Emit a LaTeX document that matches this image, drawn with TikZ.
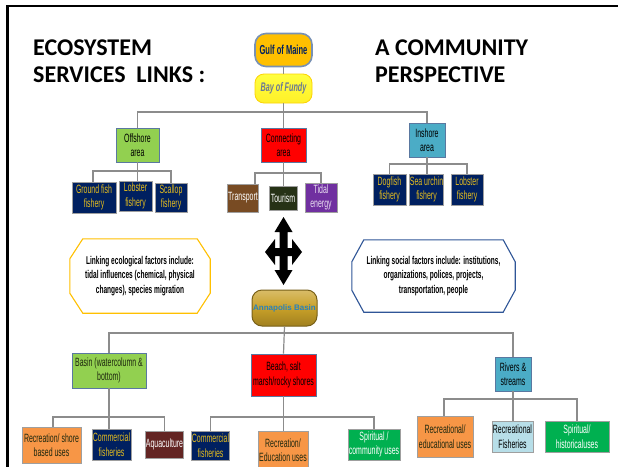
\documentclass[tikz,border=0pt]{standalone}
\usepackage{fontspec}
\setmainfont{Liberation Sans}
\newfontfamily\nf[FakeStretch=0.58]{Liberation Sans}
\newfontfamily\tf{Carlito}
\definecolor{lineg}{RGB}{140,140,140}
\definecolor{cnavy}{RGB}{0,32,96}
\definecolor{goldt}{RGB}{228,188,30}
\definecolor{lgreen}{RGB}{146,208,80}
\definecolor{cteal}{RGB}{75,172,198}
\definecolor{cbrown}{RGB}{120,75,35}
\definecolor{ctour}{RGB}{38,50,22}
\definecolor{cpurp}{RGB}{112,48,160}
\definecolor{corange}{RGB}{247,150,70}
\definecolor{cmaroon}{RGB}{99,37,35}
\definecolor{cgreen}{RGB}{0,176,80}
\definecolor{clblue}{RGB}{183,222,232}
\definecolor{cgold}{RGB}{255,192,0}
\definecolor{cyel}{RGB}{255,240,40}
\definecolor{cann}{RGB}{200,160,40}
\definecolor{cblueb}{RGB}{47,85,151}
\definecolor{bordb}{RGB}{120,145,180}
\definecolor{darkt}{RGB}{30,40,15}
\definecolor{cbayt}{RGB}{105,120,150}
\definecolor{cannt}{RGB}{40,130,190}
\definecolor{boxb}{RGB}{90,120,160}
\tikzset{
  box/.style={draw=gray!75, line width=0.8pt, inner sep=0.5pt, align=center,
    font=\nf\fontsize{12}{14.5}\selectfont},
  sz/.style 2 args={minimum width=#1pt, minimum height=#2pt},
  wire/.style={draw=lineg, line width=1.2pt},
  navyb/.style={box, fill=cnavy, text=goldt},
  ttl/.style={anchor=base west, inner sep=0pt, font=\tf\bfseries\fontsize{24}{27}\selectfont},
  octtext/.style={align=center, inner sep=0pt, font=\nf\bfseries\fontsize{11.3}{14.5}\selectfont}
}
\begin{document}
\begin{tikzpicture}[x=1pt,y=-1pt]
\useasboundingbox (0,0) rectangle (618,466);
\fill[white] (0,0) rectangle (618,466);
\draw[line width=2.6pt] (7.5,6) rectangle (660,520);

% titles
\node[ttl] (t1) at (33,55) {ECOSYSTEM};
\node[ttl] (t2) at (33,82) {SERVICES\ \ LINKS :};
\node[ttl] (t3) at (375,55) {A COMMUNITY};
\node[ttl] (t4) at (375,82) {PERSPECTIVE};

% top
\node[box, sz={57}{33}, rounded corners=11pt, fill=cgold, draw=bordb, line width=1.6pt,
  font=\nf\bfseries\fontsize{13}{14}\selectfont, text=cnavy] (gulf) at (283.5,50) {Gulf of Maine};
\node[box, sz={57}{29}, rounded corners=9pt, top color=yellow!75!white, bottom color=cyel,
  draw=yellow!70!orange, font=\nf\bfseries\itshape\fontsize{12.5}{14}\selectfont, text=cbayt] (bay) at (283.5,88.5) {Bay of Fundy};

% level 1
\node[box, sz={43}{34}, fill=lgreen, draw=boxb] (off) at (137.5,145) {Offshore\\area};
\node[box, sz={45}{34}, fill=red, draw=boxb] (conn) at (283.5,145) {Connecting\\area};
\node[box, sz={36}{34}, fill=cteal, draw=boxb] (ins) at (427,140) {Inshore\\area};

% offshore children
\node[navyb, sz={44}{31}] (gf) at (94,197.5) {Ground fish\\fishery};
\node[navyb, sz={33}{30}] (lob1) at (135.5,196) {Lobster\\fishery};
\node[navyb, sz={32}{29}] (sc) at (171,197.5) {Scallop\\fishery};

% connecting children
\node[box, sz={30}{28}, fill=cbrown, text=white] (tr) at (243,198) {Transport};
\node[box, sz={28}{24}, fill=ctour, text=white] (tou) at (283,198) {Tourism};
\node[box, sz={32}{29}, fill=cpurp, text=white!85!cpurp] (tid) at (321,197.5) {Tidal\\energy};

% inshore children
\node[navyb, sz={33}{31}] (dog) at (389.5,189.5) {Dogfish\\fishery};
\node[navyb, sz={33}{31}] (sea) at (426.5,189.5) {Sea urchin\\fishery};
\node[navyb, sz={32}{31}] (lob2) at (467,189.5) {Lobster\\fishery};

% connectors top
\coordinate (bus1) at (283.5,112);
\draw[wire] (gulf.south) -- (bay.north);
\draw[wire] (bay.south) -- (conn.north);
\draw[wire] (off.north) |- (bus1) -| (ins.north);
\coordinate (bus3) at (137,171);
\draw[wire] ([xshift=-1pt]gf.north) |- (bus3) -| (sc.north);
\draw[wire] (off.south) -- (off.south |- lob1.north);
\coordinate (bus2) at (283.5,173);
\draw[wire] ([xshift=12pt]tr.north) |- (bus2) -| (tid.north);
\draw[wire] (conn.south) -- (conn.south |- tou.north);
\coordinate (bus4) at (427,164);
\draw[wire] (dog.north) |- (bus4) -| (lob2.north);
\draw[wire] (ins.south) -- (ins.south |- sea.north);

% octagons
\node[octtext, minimum width=140pt, minimum height=74pt] (octL) at (140,276)
  {Linking ecological factors include:\\tidal influences (chemical, physical\\changes), species migration};
\draw[draw=cgold, line width=1.1pt]
  ([xshift=13pt]octL.north west) -- ([xshift=-13pt]octL.north east)
  -- ([yshift=-20pt]octL.north east) -- ([yshift=20pt]octL.south east)
  -- ([xshift=-13pt]octL.south east) -- ([xshift=13pt]octL.south west)
  -- ([yshift=20pt]octL.south west) -- ([yshift=-20pt]octL.north west) -- cycle;
\node[octtext, minimum width=163pt, minimum height=72pt] (octR) at (433.5,276)
  {Linking social factors include: institutions,\\organizations, polices, projects,\\transportation, people};
\draw[draw=cblueb, line width=1.1pt]
  ([xshift=12pt]octR.north west) -- ([xshift=-12pt]octR.north east)
  -- ([yshift=-22pt]octR.north east) -- ([yshift=22pt]octR.south east)
  -- ([xshift=-12pt]octR.south east) -- ([xshift=12pt]octR.south west)
  -- ([yshift=22pt]octR.south west) -- ([yshift=-22pt]octR.north west) -- cycle;

% four-way arrow
\fill[black] (283.5,217) -- (292.5,232) -- (287.5,232) -- (287.5,248) -- (292,248) -- (292,239)
  -- (302,252) -- (292,265) -- (292,256) -- (287.5,256) -- (287.5,270) -- (292.5,270)
  -- (283.5,285) -- (274.5,270) -- (279.5,270) -- (279.5,256) -- (275,256) -- (275,265)
  -- (265,252) -- (275,239) -- (275,248) -- (279.5,248) -- (279.5,232) -- (274.5,232) -- cycle;

% Annapolis Basin
\node[box, sz={65}{36}, rounded corners=10pt, top color=cann!70!white, bottom color=cann!80!black,
  middle color=cann, draw=cann!60!black, line width=1pt,
  font=\bfseries\fontsize{8}{9}\selectfont, text=cannt] (ann) at (284.5,308) {Annapolis Basin};

% level 2
\node[box, sz={74}{35}, fill=lgreen, draw=boxb, text=darkt] (basin) at (109,370.5) {Basin (watercolumn \&\\bottom)};
\node[box, sz={65}{42}, fill=red, draw=boxb] (beach) at (283.5,375) {Beach, salt\\marsh/rocky shores};
\node[box, sz={36}{34}, fill=cteal, draw=boxb] (riv) at (513,374) {Rivers \&\\streams};

% basin children
\node[box, sz={59}{36}, fill=corange, text=darkt] (rs) at (51.5,445) {Recreation/ shore\\based uses};
\node[navyb, sz={39}{31}] (cf1) at (111.5,444.5) {Commercial\\fisheries};
\node[box, sz={37}{27}, fill=cmaroon, text=white] (aq) at (164.5,444.5) {Aquaculture};

% beach children
\node[navyb, sz={37}{29}] (cf2) at (210.5,445.5) {Commercial\\fisheries};
\node[box, sz={50}{38}, fill=corange, text=darkt] (re) at (283,450) {Recreation/\\Education uses};
\node[box, sz={52}{31}, fill=cgreen, text=white] (sp1) at (374,444.5) {Spiritual /\\community uses};

% river children
\node[box, sz={56}{41}, fill=corange, text=darkt] (reu) at (445,436.5) {Recreational/\\educational uses};
\node[box, sz={41}{31}, fill=clblue, text=black] (rf) at (512.5,436.5) {Recreational\\Fisheries};
\node[box, sz={64}{31}, fill=cgreen, text=white] (sp2) at (577,436.5) {Spiritual/\\historicaluses};

% connectors bottom
\draw[wire] (ann.south) -- (beach.north);
\coordinate (bus5) at (283.5,333);
\draw[wire] (basin.north) |- (bus5) -| (riv.north);
\coordinate (bus6) at (109,417);
\draw[wire] ([xshift=1.5pt]rs.north) |- (bus6) -| (aq.north);
\draw[wire] (basin.south) -- (basin.south |- cf1.north);
\coordinate (bus7) at (283.5,417);
\draw[wire] (cf2.north) |- (bus7) -| (sp1.north);
\draw[wire] (beach.south) -- (beach.south |- re.north);
\coordinate (bus8) at (513,399);
\draw[wire] ([xshift=-1pt]reu.north) |- (bus8) -| (sp2.north);
\draw[wire] (riv.south) -- (riv.south |- rf.north);
\end{tikzpicture}
\end{document}
